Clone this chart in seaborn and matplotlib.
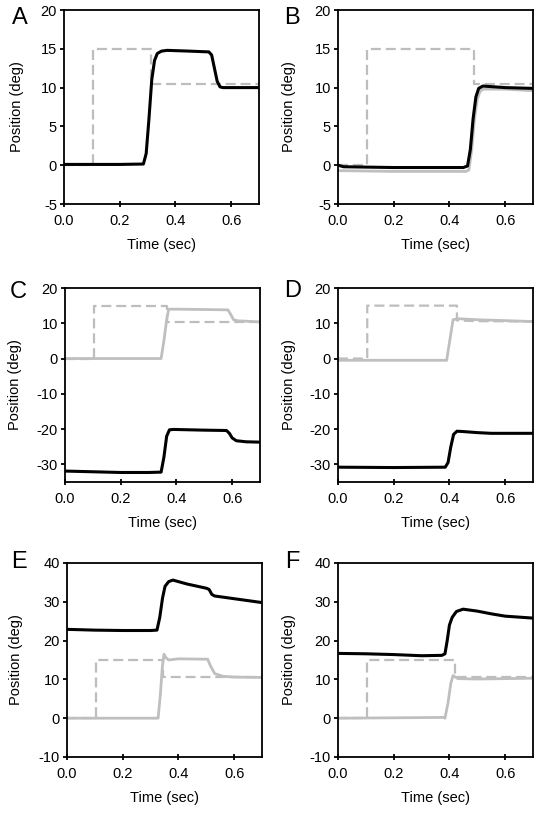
import matplotlib
matplotlib.use('Agg')
import matplotlib.pyplot as plt
import seaborn as sns

sns.set_style('ticks')
plt.rcParams['font.family'] = ['Liberation Sans', 'DejaVu Sans']
plt.rcParams['axes.unicode_minus'] = False
plt.rcParams['text.color'] = 'black'
plt.rcParams['axes.labelcolor'] = 'black'
plt.rcParams['xtick.color'] = 'black'
plt.rcParams['ytick.color'] = 'black'

BLACK = '#000000'
GRAY = '#bfbfbf'
DASH = '#bdbdbd'

# ---- panel A ----
a_target_t = [0, 0.105, 0.105, 0.312, 0.312, 0.7]
a_target_y = [0, 0, 15, 15, 10.5, 10.5]
a_black_t = [0, 0.2, 0.285, 0.295, 0.305, 0.315, 0.325, 0.335, 0.35, 0.37, 0.45, 0.52, 0.53, 0.54, 0.55, 0.56, 0.57, 0.7]
a_black_y = [0.1, 0.1, 0.15, 1.5, 6, 11, 13.5, 14.4, 14.7, 14.8, 14.7, 14.6, 14.2, 12.5, 10.8, 10.1, 10.0, 10.0]

# ---- panel B ----
b_target_t = [0, 0.105, 0.105, 0.488, 0.488, 0.7]
b_target_y = [0, 0, 15, 15, 10.5, 10.5]
b_gray_t = [0, 0.2, 0.46, 0.47, 0.48, 0.49, 0.5, 0.51, 0.52, 0.6, 0.7]
b_gray_y = [-0.7, -0.8, -0.8, -0.6, 2, 6, 8.5, 9.5, 9.8, 9.8, 9.6]
b_black_t = [0, 0.02, 0.2, 0.45, 0.465, 0.475, 0.485, 0.495, 0.505, 0.52, 0.6, 0.7]
b_black_y = [0, -0.2, -0.3, -0.3, -0.1, 2, 6, 8.8, 9.9, 10.2, 10.0, 9.9]

# ---- panel C ----
c_target_t = [0, 0.105, 0.105, 0.366, 0.366, 0.7]
c_target_y = [0, 0, 15, 15, 10.5, 10.5]
c_gray_t = [0, 0.2, 0.345, 0.355, 0.365, 0.372, 0.4, 0.5, 0.585, 0.595, 0.605, 0.62, 0.7]
c_gray_y = [0, 0, 0, 5, 11, 14, 14, 13.9, 13.8, 12.5, 11, 10.7, 10.4]
c_black_t = [0, 0.1, 0.2, 0.3, 0.345, 0.355, 0.365, 0.375, 0.39, 0.5, 0.58, 0.59, 0.6, 0.615, 0.65, 0.7]
c_black_y = [-31.9, -32.1, -32.3, -32.3, -32.2, -28, -22, -20.2, -20.1, -20.3, -20.4, -21.2, -22.5, -23.3, -23.6, -23.7]

# ---- panel D ----
d_target_t = [0, 0.105, 0.105, 0.427, 0.427, 0.5, 0.7]
d_target_y = [0, 0, 15, 15, 10.8, 10.6, 10.5]
d_gray_t = [0, 0.2, 0.39, 0.4, 0.413, 0.43, 0.5, 0.7]
d_gray_y = [-0.5, -0.5, -0.5, 4.5, 11, 11.3, 11.0, 10.5]
d_black_t = [0, 0.2, 0.385, 0.395, 0.405, 0.415, 0.427, 0.45, 0.5, 0.55, 0.7]
d_black_y = [-30.8, -30.9, -30.8, -29.5, -25, -21.5, -20.6, -20.7, -21.0, -21.2, -21.2]

# ---- panel E ----
e_target_t = [0, 0.105, 0.105, 0.345, 0.345, 0.7]
e_target_y = [0, 0, 15, 15, 10.5, 10.5]
e_gray_t = [0, 0.2, 0.327, 0.335, 0.342, 0.348, 0.355, 0.365, 0.4, 0.505, 0.515, 0.53, 0.56, 0.6, 0.7]
e_gray_y = [0, 0, 0, 6, 13, 16.5, 15.6, 15.0, 15.3, 15.2, 13.5, 11.5, 10.8, 10.6, 10.5]
e_black_t = [0, 0.1, 0.2, 0.3, 0.323, 0.333, 0.343, 0.352, 0.365, 0.38, 0.43, 0.5, 0.51, 0.52, 0.53, 0.6, 0.7]
e_black_y = [22.9, 22.7, 22.6, 22.6, 22.7, 26, 31, 34, 35.2, 35.6, 34.6, 33.5, 33.2, 31.9, 31.5, 30.8, 29.8]

# ---- panel F ----
f_target_t = [0, 0.105, 0.105, 0.42, 0.42, 0.7]
f_target_y = [0, 0, 15, 15, 10.5, 10.5]
f_gray_t = [0, 0.2, 0.38, 0.384, 0.395, 0.405, 0.413, 0.43, 0.5, 0.7]
f_gray_y = [0, 0.1, 0.2, 0, 4, 9, 11, 10.2, 10.1, 10.3]
f_black_t = [0, 0.1, 0.2, 0.3, 0.373, 0.384, 0.392, 0.4, 0.41, 0.425, 0.449, 0.5, 0.55, 0.6, 0.7]
f_black_y = [16.7, 16.6, 16.4, 16.1, 16.2, 16.6, 20, 24, 26, 27.5, 28.1, 27.6, 26.9, 26.3, 25.8]

panels = [
    ('A', (64, 10), (-5, 20), [-5, 0, 5, 10, 15, 20], (20, 18.5),
     a_target_t, a_target_y, None, None, a_black_t, a_black_y),
    ('B', (338, 10), (-5, 20), [-5, 0, 5, 10, 15, 20], (292, 18),
     b_target_t, b_target_y, b_gray_t, b_gray_y, b_black_t, b_black_y),
    ('C', (65, 288), (-35, 20), [-30, -20, -10, 0, 10, 20], (18.5, 291.5),
     c_target_t, c_target_y, c_gray_t, c_gray_y, c_black_t, c_black_y),
    ('D', (338, 288), (-35, 20), [-30, -20, -10, 0, 10, 20], (292.5, 291),
     d_target_t, d_target_y, d_gray_t, d_gray_y, d_black_t, d_black_y),
    ('E', (67, 563), (-10, 40), [-10, 0, 10, 20, 30, 40], (19, 561.5),
     e_target_t, e_target_y, e_gray_t, e_gray_y, e_black_t, e_black_y),
    ('F', (338, 563), (-10, 40), [-10, 0, 10, 20, 30, 40], (292.5, 561.5),
     f_target_t, f_target_y, f_gray_t, f_gray_y, f_black_t, f_black_y),
]

W, H = 550, 818
fig = plt.figure(figsize=(W / 100, H / 100), dpi=100)
aw, ah = 195, 194

for (label, (px, py), ylim, yticks, (lx, ly),
     tt, ty, gt, gy, bt, by) in panels:
    ax = fig.add_axes([px / W, 1 - (py + ah) / H, aw / W, ah / H])
    sns.lineplot(x=tt, y=ty, ax=ax, color=DASH, lw=1.6, estimator=None,
                 sort=False, linestyle=(0, (4.5, 2.2)))
    if gt is not None:
        sns.lineplot(x=gt, y=gy, ax=ax, color=GRAY, lw=2.0, estimator=None, sort=False)
    sns.lineplot(x=bt, y=by, ax=ax, color=BLACK, lw=2.2, estimator=None, sort=False)

    ax.set_xlim(0, 0.7)
    ax.set_ylim(*ylim)
    ax.set_xticks([0, 0.2, 0.4, 0.6])
    ax.set_xticklabels(['0.0', '0.2', '0.4', '0.6'])
    ax.set_yticks(yticks)
    ax.set_yticklabels([str(v) for v in yticks])
    for sp in ax.spines.values():
        sp.set_visible(True)
        sp.set_linewidth(1.3)
        sp.set_color('black')
    ax.tick_params(axis='x', direction='inout', length=5, width=1.3, labelsize=10.5, pad=5)
    ax.tick_params(axis='y', direction='out', length=3, width=1.3, labelsize=10.5, pad=2)
    ax.set_xlabel('Time (sec)', fontsize=10.5, labelpad=7)
    ax.set_ylabel('Position (deg)', fontsize=10.5)
    ax.yaxis.set_label_coords((lx + 4 - px) / aw, 0.5)
    fig.text(lx / W, 1 - ly / H, label, fontsize=17, ha='center', va='center')

fig.savefig('out.png', dpi=100)
